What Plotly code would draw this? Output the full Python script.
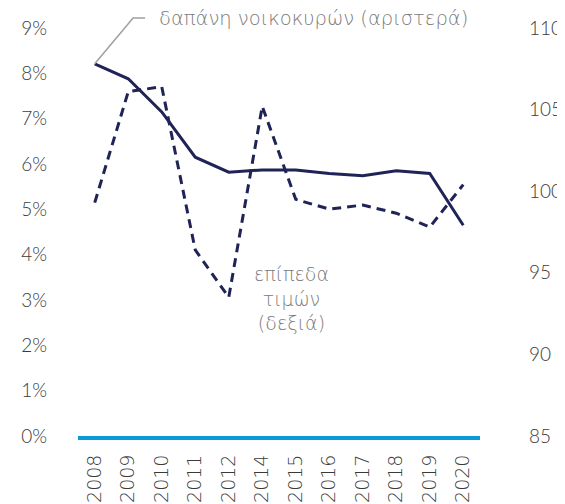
import plotly.graph_objects as go

years = ["2008", "2009", "2010", "2011", "2012", "2014", "2015", "2016", "2017", "2018", "2019", "2020"]
spending_pct = [8.21, 7.88, 7.15, 6.15, 5.82, 5.87, 5.87, 5.79, 5.74, 5.85, 5.79, 4.65]
price_level = [99.3, 106.1, 106.4, 96.4, 93.5, 105.2, 99.5, 98.9, 99.15, 98.65, 97.8, 100.4]

left_ticks = [0, 1, 2, 3, 4, 5, 6, 7, 8, 9]
left_labels = [f"{v}%" for v in left_ticks]
right_ticks = [85, 90, 95, 100, 105, 110]

NAVY = "#1f2356"
FONT = "Lato"
NOTE_FONT = "DejaVu Sans"
TICK_COL = "#3a3a3a"
NOTE_COL = "#7a7a7a"

fig = go.Figure()
fig.add_trace(go.Scatter(x=years, y=spending_pct, mode="lines",
                         line=dict(color=NAVY, width=3), yaxis="y", showlegend=False))
fig.add_trace(go.Scatter(x=years, y=price_level, mode="lines",
                         line=dict(color=NAVY, width=3, dash="9px,6px"), yaxis="y2", showlegend=False))

n = len(years)
x0 = 0.5 / n
y0 = spending_pct[0] / 9
fig.add_shape(type="path", xref="paper", yref="paper",
              path=f"M {x0},{y0} L 0.137,1.0245 L 0.167,1.0245",
              line=dict(color="#a0a0a0", width=1.5))

fig.add_annotation(text="δαπάνη νοικοκυρών (αριστερά)", xref="paper", yref="paper",
                   x=0.197, y=1.0245, xanchor="left", yanchor="middle", showarrow=False,
                   font=dict(family=NOTE_FONT, size=19.5, color=NOTE_COL, weight=200))
fig.add_annotation(text="επίπεδα<br>τιμών<br>(δεξιά)", xref="paper", yref="paper",
                   x=0.532, y=0.337, xanchor="center", yanchor="middle", showarrow=False,
                   align="center", font=dict(family=NOTE_FONT, size=19, color=NOTE_COL, weight=200))

fig.update_layout(
    width=557, height=496,
    margin=dict(l=70, r=85, t=20, b=68, autoexpand=False),
    plot_bgcolor="white", paper_bgcolor="white",
    font=dict(family=FONT, size=19, color=TICK_COL, weight=300),
    xaxis=dict(type="category", range=[-0.5, n - 0.5], showgrid=False, tickangle=-90,
               showline=True, linecolor="#0a9ad7", linewidth=4, ticks="", automargin=False,
               tickfont=dict(family=NOTE_FONT, size=19, weight=200, color=TICK_COL),
               ticklabelstandoff=7),
    yaxis=dict(range=[0, 9], tickvals=left_ticks, ticktext=left_labels, showgrid=False,
               zeroline=False, ticklabelstandoff=30, automargin=False),
    yaxis2=dict(range=[85, 110], tickvals=right_ticks, overlaying="y", side="right",
                showgrid=False, zeroline=False, ticklabelstandoff=48, automargin=False),
)

fig.write_html("out.html")
